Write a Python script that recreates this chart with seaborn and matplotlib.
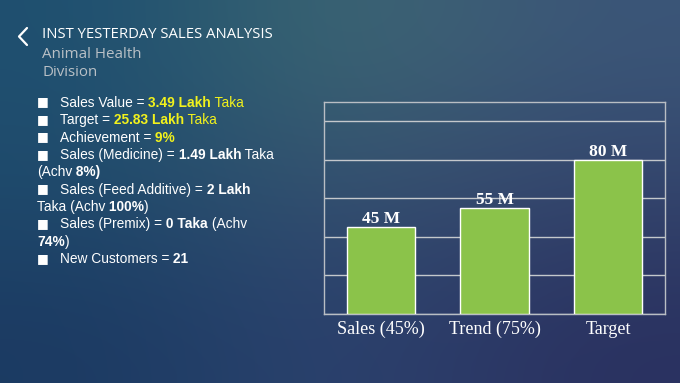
import numpy as np
import pandas as pd
import seaborn as sns
import matplotlib.pyplot as plt
from matplotlib.lines import Line2D

# chart data
categories = ["Sales (45%)", "Trend (75%)", "Target"]
values = [45, 55, 80]
bar_labels = ["45 M", "55 M", "80 M"]

# header
title = "INST YESTERDAY SALES ANALYSIS"
subtitle = ["Animal Health", "Division"]

# bullet list: (has_bullet, [(text, style), ...])
bullet_lines = [
    (True, [("Sales Value =", "n"), (" 3.49 Lakh", "yb"), (" Taka", "y")]),
    (True, [("Target =", "n"), (" 25.83 Lakh", "yb"), (" Taka", "y")]),
    (True, [("Achievement =", "n"), (" 9%", "yb")]),
    (True, [("Sales (Medicine) =", "n"), (" 1.49 Lakh", "b"), (" Taka", "n")]),
    (False, [("(Achv", "n"), (" 8%)", "b")]),
    (True, [("Sales (Feed Additive) =", "n"), (" 2 Lakh", "b")]),
    (False, [("Taka (Achv", "n"), (" 100%", "b"), (")", "n")]),
    (True, [("Sales (Premix) =", "n"), (" 0 Taka", "b"), (" (Achv", "n")]),
    (False, [("74%", "b"), (")", "n")]),
    (True, [("New Customers =", "n"), (" 21", "b")]),
]

W, H = 680, 383
def fx(x): return x / W
def fy(y): return 1 - y / H

sns.set_theme(style="white")
fig = plt.figure(figsize=(6.8, 3.83), dpi=100)

# gradient background
bg = fig.add_axes([0, 0, 1, 1])
grid_cols = np.array([
    [[0x1e, 0x4f, 0x70], [0x3e, 0x69, 0x72], [0x3b, 0x55, 0x78]],
    [[0x1e, 0x4a, 0x6c], [0x38, 0x52, 0x70], [0x33, 0x44, 0x6c]],
    [[0x1b, 0x3a, 0x62], [0x2d, 0x44, 0x70], [0x2a, 0x31, 0x60]],
]) / 255.0
bg.imshow(grid_cols, aspect="auto", interpolation="bicubic", extent=[0, 1, 0, 1])
bg.set_axis_off()

# header
fig.add_artist(Line2D([fx(27), fx(19), fx(27)], [fy(28), fy(36.5), fy(45)],
                      color="white", lw=1.6, transform=fig.transFigure))
fig.text(fx(42), fy(38.5), title, color="white", fontsize=10.7,
         family="Open Sans", va="baseline")
for i, s in enumerate(subtitle):
    fig.text(fx(42), fy(57.5 + i * 18.5), s, color="#b9c0c6", fontsize=10.9,
             family="Open Sans", va="baseline")

# bullet list
styles = {
    "n": dict(color="white", weight="normal"),
    "b": dict(color="white", weight="bold"),
    "y": dict(color="#f2f21c", weight="normal"),
    "yb": dict(color="#f2f21c", weight="bold"),
}
renderer = fig.canvas.get_renderer()
base = 107
for i, (has_bullet, segs) in enumerate(bullet_lines):
    yb = base + i * 17.35
    if has_bullet:
        fig.text(fx(37), fy(yb - 1.5), "\u25a0", color="white", fontsize=9,
                 family="DejaVu Sans", va="baseline")
        x = 60
    else:
        x = 37
    for s, st in segs:
        t = fig.text(fx(x), fy(yb), s, fontsize=9.95, family="Liberation Sans",
                     va="baseline", **styles[st])
        x += t.get_window_extent(renderer).width

# bar chart
df = pd.DataFrame({"category": categories, "value": values})
ax = fig.add_axes([fx(324), fy(314), fx(665) - fx(324), (314 - 102) / H])
ax.set_facecolor("none")
sns.barplot(data=df, x="category", y="value", color="#8bc34a", width=0.6,
            saturation=1, ax=ax, zorder=3)
ax.set_ylim(0, 110)
ax.set_yticks(range(0, 101, 20))
ax.set_yticklabels([])
ax.yaxis.grid(True, color="#c4c8cc", lw=1)
ax.set_axisbelow(True)
ax.tick_params(length=0, pad=5)
ax.set_xlabel("")
ax.set_ylabel("")
for lab in ax.get_xticklabels():
    lab.set_color("white")
    lab.set_fontsize(13)
    lab.set_family("Liberation Serif")
for sp in ax.spines.values():
    sp.set_color("#b9bec4")
    sp.set_linewidth(1)
for p, lab in zip(ax.patches, bar_labels):
    ax.annotate(lab, (p.get_x() + p.get_width() / 2, p.get_height()),
                xytext=(0, 4), textcoords="offset pixels", ha="center",
                va="baseline", color="white", fontsize=12.5, weight="bold",
                family="Liberation Serif")

fig.savefig("out.png", dpi=100)
